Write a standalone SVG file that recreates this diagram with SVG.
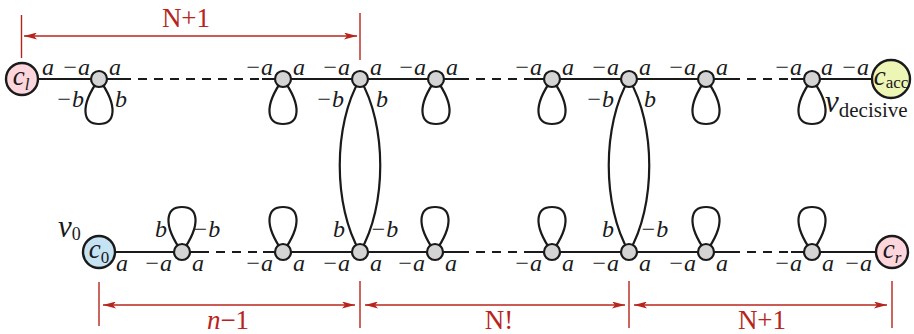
<svg xmlns="http://www.w3.org/2000/svg" width="914" height="334" viewBox="0 0 914 334">
<defs>
<style>
.ln{stroke:#1a1a1a;stroke-width:2.2;fill:none}
.ds{stroke:#1a1a1a;stroke-width:2.2;fill:none;stroke-dasharray:9 7}
.nd{fill:#d4d4d4;stroke:#1a1a1a;stroke-width:2.2}
.bg{stroke:#1a1a1a;stroke-width:2.4}
.lb{font-family:"Liberation Serif",serif;font-style:italic;font-size:24px;fill:#1a1a1a}
.cl{font-family:"Liberation Serif",serif;font-style:italic;font-size:27px;fill:#1a1a1a}
.sb{font-size:17px}
.up{font-style:normal}
.e{text-anchor:end}
.m{text-anchor:middle}
.rd{stroke:#b8241c;stroke-width:1.4;fill:none}
.rt{font-family:"Liberation Serif",serif;font-size:27px;fill:#b8241c;text-anchor:middle}
</style>
<marker id="ah" viewBox="0 0 13 7" refX="13" refY="3.5" markerWidth="13" markerHeight="7" markerUnits="userSpaceOnUse" orient="auto-start-reverse">
<path d="M0,0 L13,3.5 L0,7 L3,3.5 z" fill="#b8241c"/>
</marker>
</defs>

<g id="connectors">
<path class="ln" d="M22 79 H122 M262 79 H460 M532 79 H731 M791 79 H891"/>
<path class="ds" d="M122 79 H262 M460 79 H532 M731 79 H791"/>
<path class="ln" d="M99 252 H200 M263 252 H460 M532 252 H731 M791 252 H892"/>
<path class="ds" d="M200 252 H263 M460 252 H532 M731 252 H791"/>
<path class="ln" d="M360 79 C333 125 333 206 360 252 C387 206 387 125 360 79"/>
<path class="ln" d="M629 79 C602 125 602 206 629 252 C656 206 656 125 629 79"/>
<path class="ln" d="M99 79 C79 107 83 124 99 124 C115 124 119 107 99 79"/>
<path class="ln" d="M283 79 C263 107 267 124 283 124 C299 124 303 107 283 79"/>
<path class="ln" d="M436 79 C416 107 420 124 436 124 C452 124 456 107 436 79"/>
<path class="ln" d="M552 79 C532 107 536 124 552 124 C568 124 572 107 552 79"/>
<path class="ln" d="M706 79 C686 107 690 124 706 124 C722 124 726 107 706 79"/>
<path class="ln" d="M812 79 C792 107 796 124 812 124 C828 124 832 107 812 79"/>
<path class="ln" d="M182 252 C162 224 166 207 182 207 C198 207 202 224 182 252"/>
<path class="ln" d="M283 252 C263 224 267 207 283 207 C299 207 303 224 283 252"/>
<path class="ln" d="M435 252 C415 224 419 207 435 207 C451 207 455 224 435 252"/>
<path class="ln" d="M552 252 C532 224 536 207 552 207 C568 207 572 224 552 252"/>
<path class="ln" d="M706 252 C686 224 690 207 706 207 C722 207 726 224 706 252"/>
<path class="ln" d="M812 252 C792 224 796 207 812 207 C828 207 832 224 812 252"/>
</g>

<g id="c_l">
<circle class="bg" cx="22" cy="79" r="16" fill="#fcd6dc"/>
<text class="cl m" x="21" y="85">c<tspan class="sb" dy="5">l</tspan></text>
<text class="lb" x="42" y="75">a</text>
</g>
<g id="t1">
<circle class="nd" cx="99" cy="79" r="8"/>
<text class="lb e" x="90" y="75">−a</text><text class="lb" x="109" y="75">a</text>
<text class="lb e" x="84" y="107">−b</text><text class="lb" x="115" y="107">b</text>
</g>
<g id="t2">
<circle class="nd" cx="283" cy="79" r="8"/>
<text class="lb e" x="273" y="75">−a</text><text class="lb" x="293" y="75">a</text>
</g>
<g id="t3">
<circle class="nd" cx="360" cy="79" r="8"/>
<text class="lb e" x="350" y="75">−a</text><text class="lb" x="370" y="75">a</text>
<text class="lb e" x="344" y="107">−b</text><text class="lb" x="376" y="107">b</text>
</g>
<g id="t4">
<circle class="nd" cx="436" cy="79" r="8"/>
<text class="lb e" x="426" y="75">−a</text><text class="lb" x="446" y="75">a</text>
</g>
<g id="t5">
<circle class="nd" cx="552" cy="79" r="8"/>
<text class="lb e" x="542" y="75">−a</text><text class="lb" x="562" y="75">a</text>
</g>
<g id="t6">
<circle class="nd" cx="629" cy="79" r="8"/>
<text class="lb e" x="619" y="75">−a</text><text class="lb" x="639" y="75">a</text>
<text class="lb e" x="614" y="107">−b</text><text class="lb" x="644" y="107">b</text>
</g>
<g id="t7">
<circle class="nd" cx="706" cy="79" r="8"/>
<text class="lb e" x="696" y="75">−a</text><text class="lb" x="716" y="75">a</text>
</g>
<g id="v_decisive">
<circle class="nd" cx="812" cy="79" r="8"/>
<text class="lb e" x="802" y="75">−a</text><text class="lb" x="821" y="75">a</text>
<text class="lb e" x="869" y="75">−a</text>
<text class="lb" x="825" y="112" style="font-size:31px">v<tspan class="up" dy="5" style="font-size:21px">decisive</tspan></text>
</g>
<g id="c_acc">
<circle class="bg" cx="891" cy="79" r="19" fill="#eef6b6"/>
<text class="cl m" x="891" y="85">c<tspan class="sb up" dy="3">acc</tspan></text>
</g>

<g id="c_0">
<circle class="bg" cx="99" cy="252" r="16" fill="#c5e3f2"/>
<text class="cl m" x="99" y="258">c<tspan class="sb up" dy="5">0</tspan></text>
<text class="lb" x="116" y="271">a</text>
<text class="lb" x="58" y="237" style="font-size:31px">v<tspan class="up" dy="3" style="font-size:18px">0</tspan></text>
</g>
<g id="b1">
<circle class="nd" cx="182" cy="252" r="8"/>
<text class="lb e" x="172" y="271">−a</text><text class="lb" x="192" y="271">a</text>
<text class="lb e" x="167" y="237">b</text><text class="lb" x="192" y="237">−b</text>
</g>
<g id="b2">
<circle class="nd" cx="283" cy="252" r="8"/>
<text class="lb e" x="273" y="271">−a</text><text class="lb" x="293" y="271">a</text>
</g>
<g id="b3">
<circle class="nd" cx="360" cy="252" r="8"/>
<text class="lb e" x="350" y="271">−a</text><text class="lb" x="370" y="271">a</text>
<text class="lb e" x="345" y="237">b</text><text class="lb" x="370" y="237">−b</text>
</g>
<g id="b4">
<circle class="nd" cx="435" cy="252" r="8"/>
<text class="lb e" x="425" y="271">−a</text><text class="lb" x="445" y="271">a</text>
</g>
<g id="b5">
<circle class="nd" cx="552" cy="252" r="8"/>
<text class="lb e" x="542" y="271">−a</text><text class="lb" x="562" y="271">a</text>
</g>
<g id="b6">
<circle class="nd" cx="629" cy="252" r="8"/>
<text class="lb e" x="619" y="271">−a</text><text class="lb" x="639" y="271">a</text>
<text class="lb e" x="614" y="237">b</text><text class="lb" x="640" y="237">−b</text>
</g>
<g id="b7">
<circle class="nd" cx="706" cy="252" r="8"/>
<text class="lb e" x="696" y="271">−a</text><text class="lb" x="716" y="271">a</text>
</g>
<g id="b8">
<circle class="nd" cx="812" cy="252" r="8"/>
<text class="lb e" x="802" y="271">−a</text><text class="lb" x="822" y="271">a</text>
<text class="lb e" x="872" y="271">−a</text>
</g>
<g id="c_r">
<circle class="bg" cx="892" cy="252" r="16" fill="#fcd6dc"/>
<text class="cl m" x="892" y="258">c<tspan class="sb" dy="5">r</tspan></text>
</g>

<g id="dimensions">
<path class="rd" d="M21.5 15 V58 M360 13 V60 M99 282 V326 M360 281 V328 M629 281 V328 M892 281 V328"/>
<line class="rd" x1="24" y1="36" x2="357" y2="36" marker-start="url(#ah)" marker-end="url(#ah)"/>
<line class="rd" x1="103" y1="305" x2="355" y2="305" marker-start="url(#ah)" marker-end="url(#ah)"/>
<line class="rd" x1="365" y1="305" x2="625" y2="305" marker-start="url(#ah)" marker-end="url(#ah)"/>
<line class="rd" x1="634" y1="305" x2="887" y2="305" marker-start="url(#ah)" marker-end="url(#ah)"/>
<text class="rt" x="186" y="27">N+1</text>
<text class="rt" x="228" y="329"><tspan font-style="italic">n</tspan>−1</text>
<text class="rt" x="499" y="329">N!</text>
<text class="rt" x="762" y="329">N+1</text>
</g>
</svg>
